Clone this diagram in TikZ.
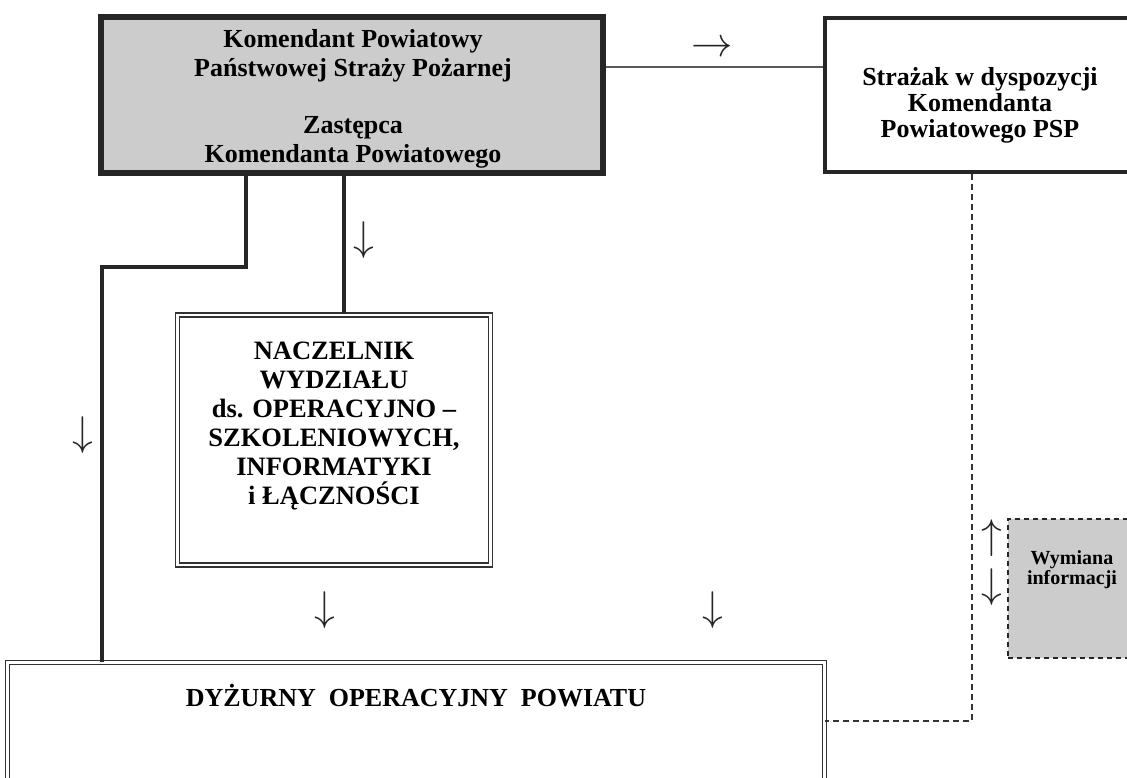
\documentclass[tikz,border=0pt]{standalone}
\usepackage{amsmath}
\usepackage{fontspec}
\setmainfont{Liberation Serif}
\usetikzlibrary{positioning}

\begin{document}
\begin{tikzpicture}[x=1pt,y=-1pt]
\tikzset{
  mainbox/.style={rectangle,draw=black!85,fill=black!20,line width=6pt,minimum width=502pt,minimum height=156pt,inner sep=0pt},
  sidebox/.style={rectangle,draw=black!85,line width=4pt,minimum width=315pt,minimum height=154pt,inner sep=0pt},
  doublebox/.style={rectangle,draw=black!80,double,line width=1.3pt,double distance=2.5pt,inner sep=0pt},
  infobox/.style={rectangle,draw=black!85,fill=black!20,dash pattern=on 5pt off 4pt,line width=2pt,inner sep=0pt},
  maintext/.style={align=center,inner sep=0pt,font=\bfseries\fontsize{26}{28.5}\selectfont},
  sidetext/.style={align=center,inner sep=0pt,font=\bfseries\fontsize{26}{26}\selectfont},
  boxtext/.style={align=center,inner sep=0pt,font=\bfseries\fontsize{26.5}{29}\selectfont},
  infotext/.style={align=center,inner sep=0pt,font=\bfseries\fontsize{20}{20}\selectfont},
  link/.style={draw=black!85,line width=4pt},
  thinlink/.style={draw=black!65,line width=1.6pt},
  infolink/.style={draw=black!80,line width=1.8pt,dash pattern=on 6pt off 4pt},
  flow/.style={inner sep=0pt,text=black!85,font=\fontsize{20}{20}\selectfont,scale=2,transform shape}
}
\useasboundingbox (0,0) rectangle (1127,778);
\node[mainbox] (n_kpsp) at (352,95) {};
\node[maintext] (n_kpsp_txt) at (353,99) {Komendant Powiatowy\\Państwowej Straży Pożarnej\\[29pt]Zastępca\\Komendanta Powiatowego};
\node[sidebox] (n_strazak) at (982,95) {};
\node[sidetext] (n_strazak_txt) at (980,105) {Strażak w dyspozycji\\Komendanta\\Powiatowego PSP};
\node[doublebox,minimum width=313pt,minimum height=250pt] (n_naczelnik) at (334,440) {};
\node[boxtext] (n_naczelnik_txt) at (334,426) {NACZELNIK\\WYDZIAŁU\\ds. OPERACYJNO --\\SZKOLENIOWYCH,\\INFORMATYKI\\i ŁĄCZNOŚCI};
\node[doublebox,minimum width=817pt,minimum height=157pt] (n_dyzurny) at (416,741) {};
\node[inner sep=0pt,font=\bfseries\fontsize{26}{26}\selectfont] (n_dyzurny_txt) at (416,696) {DYŻURNY\ \ OPERACYJNY\ \ POWIATU};
\node[infobox,minimum width=130pt,minimum height=139pt] (n_wymiana) at (1073,588) {};
\node[infotext] (n_wymiana_txt) at (1072,570) {Wymiana\\informacji};
\node[flow] (n_to_strazak) at (712,49) {$\rightarrow$};
\node[flow] (n_to_naczelnik) at (364,240) {$\downarrow$};
\node[flow] (n_to_dyzurny_a) at (83,435) {$\downarrow$};
\node[flow] (n_to_dyzurny_b) at (325,610) {$\downarrow$};
\node[flow] (n_to_dyzurny_c) at (713,610) {$\downarrow$};
\node[flow] (n_info_up) at (992,538) {$\uparrow$};
\node[flow] (n_info_down) at (992,587) {$\downarrow$};
\coordinate (c_bend) at (102,267);
\draw[thinlink] ([yshift=28pt]n_kpsp.east) -- ([yshift=28pt]n_kpsp.east -| n_strazak.west);
\draw[link] ([xshift=-106pt]n_kpsp.south) |- (c_bend) -- (c_bend |- n_dyzurny.north);
\draw[link] ([xshift=10pt]n_naczelnik.north |- n_kpsp.south) -- ([xshift=10pt]n_naczelnik.north);
\draw[infolink] ([xshift=-10pt]n_strazak.south) |- ([yshift=20pt]n_dyzurny.east);
\end{tikzpicture}
\end{document}
